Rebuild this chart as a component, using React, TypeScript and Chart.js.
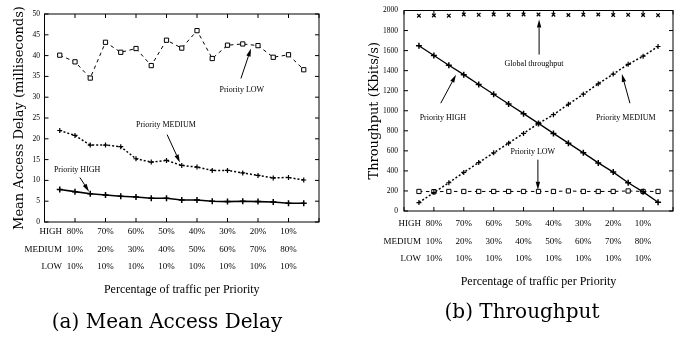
import React, { useEffect, useRef } from 'react';
import { Chart, registerables } from 'chart.js';

Chart.register(...registerables);

// ---------- shared x axis (share of MEDIUM traffic, %) ----------
const mediumShare = [5, 10, 15, 20, 25, 30, 35, 40, 45, 50, 55, 60, 65, 70, 75, 80, 85];
const tickValues = [10, 20, 30, 40, 50, 60, 70, 80];
const highTickLabels = ['80%', '70%', '60%', '50%', '40%', '30%', '20%', '10%'];
const mediumTickLabels = ['10%', '20%', '30%', '40%', '50%', '60%', '70%', '80%'];
const lowTickLabels = ['10%', '10%', '10%', '10%', '10%', '10%', '10%', '10%'];
const rowHeaders = ['HIGH', 'MEDIUM', 'LOW'];

// ---------- (a) Mean Access Delay (ms) ----------
const delayLow = [40.1, 38.5, 34.6, 43.2, 40.8, 41.7, 37.6, 43.7, 41.8, 46.0, 39.3, 42.5, 42.8, 42.4, 39.6, 40.2, 36.6];
const delayMedium = [22.0, 20.8, 18.5, 18.5, 18.1, 15.2, 14.4, 14.8, 13.6, 13.2, 12.4, 12.4, 11.8, 11.2, 10.6, 10.7, 10.1];
const delayHigh = [7.8, 7.3, 6.8, 6.5, 6.2, 6.0, 5.7, 5.7, 5.3, 5.3, 5.0, 4.9, 5.0, 4.9, 4.8, 4.5, 4.5];

// ---------- (b) Throughput (Kbits/s) ----------
const tputGlobal = [1948, 1950, 1948, 1960, 1957, 1960, 1957, 1960, 1960, 1958, 1955, 1958, 1960, 1955, 1957, 1955, 1953];
const tputHigh = [1648, 1551, 1454, 1360, 1262, 1165, 1068, 971, 874, 774, 677, 580, 480, 388, 282, 191, 88];
const tputMedium = [84, 184, 282, 385, 483, 580, 677, 774, 874, 961, 1065, 1165, 1269, 1366, 1463, 1544, 1641];
const tputLow = [195, 193, 195, 195, 195, 195, 195, 195, 195, 195, 200, 195, 195, 195, 200, 195, 195];

type Ann = { text: string; at: [number, number]; from: [number, number]; to: [number, number] };

const delayAnnotations: Ann[] = [
  { text: 'Priority LOW', at: [64.7, 31.8], from: [64.4, 34.5], to: [67.7, 41.7] },
  { text: 'Priority MEDIUM', at: [39.8, 23.4], from: [40.2, 21.0], to: [44.4, 14.3] },
  { text: 'Priority HIGH', at: [10.7, 12.6], from: [11.6, 10.7], to: [14.6, 7.3] },
];

const tputAnnotations: Ann[] = [
  { text: 'Global throughput', at: [43.5, 1463], from: [45.2, 1560], to: [45.2, 1910] },
  { text: 'Priority HIGH', at: [13.0, 929], from: [12.3, 1075], to: [17.4, 1359] },
  { text: 'Priority MEDIUM', at: [74.2, 929], from: [75.6, 1075], to: [72.9, 1366] },
  { text: 'Priority LOW', at: [43.1, 589], from: [44.8, 512], to: [44.8, 211] },
];

const SERIF = "'Liberation Serif'";
const X_TICK_SIZE = 9;
const X_LINE_H = 17.5;

type DecorCfg = {
  annotations: Ann[];
  caption: string;
  captionX: number;
  captionY: number;
  rowGap: number;
  tickPadding: number;
};

function makeDecor(cfg: DecorCfg) {
  return {
    id: 'paperDecor',
    afterDraw(chart: any) {
      const ctx = chart.ctx as CanvasRenderingContext2D;
      const { left, right, top, bottom } = chart.chartArea;
      const xs = chart.scales.x;
      const ys = chart.scales.y;
      ctx.save();
      ctx.strokeStyle = '#000';
      ctx.fillStyle = '#000';
      ctx.lineWidth = 1;
      ctx.strokeRect(left, top, right - left, bottom - top);
      const tl = 4;
      ctx.beginPath();
      xs.ticks.forEach((t: any) => {
        const px = xs.getPixelForValue(t.value);
        ctx.moveTo(px, bottom);
        ctx.lineTo(px, bottom - tl);
        ctx.moveTo(px, top);
        ctx.lineTo(px, top + tl);
      });
      ys.ticks.forEach((t: any) => {
        const py = ys.getPixelForValue(t.value);
        ctx.moveTo(left, py);
        ctx.lineTo(left + tl, py);
        ctx.moveTo(right, py);
        ctx.lineTo(right - tl, py);
      });
      ctx.stroke();

      // row headers for the multi-line tick labels
      ctx.font = `${X_TICK_SIZE}px ${SERIF}`;
      ctx.textAlign = 'right';
      ctx.textBaseline = 'middle';
      const firstPx = xs.getPixelForValue(tickValues[0]);
      rowHeaders.forEach((h, i) => {
        ctx.fillText(h, firstPx - cfg.rowGap, bottom + cfg.tickPadding + X_LINE_H * (i + 0.5));
      });

      // annotations with arrows
      ctx.font = `8px ${SERIF}`;
      ctx.textAlign = 'center';
      cfg.annotations.forEach((a) => {
        ctx.fillText(a.text, xs.getPixelForValue(a.at[0]), ys.getPixelForValue(a.at[1]));
        const x1 = xs.getPixelForValue(a.from[0]);
        const y1 = ys.getPixelForValue(a.from[1]);
        const x2 = xs.getPixelForValue(a.to[0]);
        const y2 = ys.getPixelForValue(a.to[1]);
        const ang = Math.atan2(y2 - y1, x2 - x1);
        const L = 8;
        const W = 2.2;
        const bx = x2 - L * Math.cos(ang);
        const by = y2 - L * Math.sin(ang);
        ctx.beginPath();
        ctx.moveTo(x1, y1);
        ctx.lineTo(bx, by);
        ctx.stroke();
        ctx.beginPath();
        ctx.moveTo(x2, y2);
        ctx.lineTo(bx + W * Math.sin(ang), by - W * Math.cos(ang));
        ctx.lineTo(bx - W * Math.sin(ang), by + W * Math.cos(ang));
        ctx.closePath();
        ctx.fill();
      });

      // caption
      ctx.font = "20px 'DejaVu Serif'";
      ctx.textAlign = 'center';
      ctx.textBaseline = 'middle';
      ctx.fillText(cfg.caption, cfg.captionX, cfg.captionY);
      ctx.restore();
    },
  };
}

function xTickCallback(value: any) {
  const i = tickValues.indexOf(Number(value));
  if (i < 0) return '';
  return [highTickLabels[i], mediumTickLabels[i], lowTickLabels[i]];
}

function buildOptions(p: {
  yMax: number;
  yStep: number;
  yTitle: string;
  yAxisWidth: number;
  yTitlePad: number;
  yTickPad: number;
  xAxisHeight: number;
  xTickPad: number;
  padding: { top: number; right: number; bottom: number; left: number };
}) {
  return {
    responsive: false,
    animation: false as const,
    devicePixelRatio: 1,
    layout: { padding: p.padding },
    plugins: { legend: { display: false }, tooltip: { enabled: false }, title: { display: false } },
    scales: {
      x: {
        type: 'linear' as const,
        min: 0,
        max: 90,
        grid: { display: false, drawTicks: false },
        border: { display: false },
        afterFit: (s: any) => {
          s.height = p.xAxisHeight;
        },
        ticks: {
          stepSize: 10,
          autoSkip: false,
          maxRotation: 0,
          minRotation: 0,
          padding: p.xTickPad,
          color: '#000',
          font: { family: 'Liberation Serif', size: X_TICK_SIZE, lineHeight: X_LINE_H / X_TICK_SIZE },
          callback: xTickCallback,
        },
        title: {
          display: true,
          text: 'Percentage of traffic per Priority',
          color: '#000',
          font: { family: 'Liberation Serif', size: 12 },
          padding: { top: 0, bottom: 0 },
        },
      },
      y: {
        type: 'linear' as const,
        min: 0,
        max: p.yMax,
        grid: { display: false, drawTicks: false },
        border: { display: false },
        afterFit: (s: any) => {
          s.width = p.yAxisWidth;
        },
        ticks: {
          stepSize: p.yStep,
          padding: p.yTickPad,
          color: '#000',
          font: { family: 'Liberation Serif', size: 7.5 },
          callback: (value: any) => String(value),
        },
        title: {
          display: true,
          text: p.yTitle,
          color: '#000',
          font: { family: 'DejaVu Serif', size: 13 },
          padding: { top: p.yTitlePad, bottom: 0 },
        },
      },
    },
  };
}

const pts = (ys: number[]) => mediumShare.map((x, i) => ({ x, y: ys[i] }));

export default function App() {
  const leftRef = useRef<HTMLCanvasElement | null>(null);
  const rightRef = useRef<HTMLCanvasElement | null>(null);

  useEffect(() => {
    if (!leftRef.current || !rightRef.current) return;

    const left = new Chart(leftRef.current, {
      type: 'line',
      data: {
        datasets: [
          {
            label: 'Priority LOW',
            data: pts(delayLow),
            borderColor: '#000',
            borderWidth: 1,
            borderDash: [3.5, 3.5],
            pointStyle: 'rect',
            pointRadius: 3,
            pointBorderWidth: 1,
            pointBorderColor: '#000',
            pointBackgroundColor: '#fff',
          },
          {
            label: 'Priority MEDIUM',
            data: pts(delayMedium),
            borderColor: '#000',
            borderWidth: 1.5,
            borderDash: [2, 2],
            pointStyle: 'cross',
            pointRadius: 2.5,
            pointBorderWidth: 1.2,
            pointBorderColor: '#000',
          },
          {
            label: 'Priority HIGH',
            data: pts(delayHigh),
            borderColor: '#000',
            borderWidth: 1.6,
            pointStyle: 'cross',
            pointRadius: 3,
            pointBorderWidth: 1.5,
            pointBorderColor: '#000',
          },
        ],
      },
      options: buildOptions({
        yMax: 50,
        yStep: 5,
        yTitle: 'Mean Access Delay (milliseconds)',
        yAxisWidth: 44.5,
        yTitlePad: 12,
        yTickPad: 4.5,
        xAxisHeight: 75.2,
        xTickPad: 1.25,
        padding: { top: 14, right: 22, bottom: 41.8, left: 0 },
      }) as any,
      plugins: [
        makeDecor({
          annotations: delayAnnotations,
          caption: '(a) Mean Access Delay',
          captionX: 167,
          captionY: 323,
          rowGap: 13,
          tickPadding: 1.25,
        }),
      ],
    });

    const right = new Chart(rightRef.current, {
      type: 'line',
      data: {
        datasets: [
          {
            label: 'Global throughput',
            data: pts(tputGlobal),
            showLine: false,
            borderColor: '#000',
            pointStyle: 'crossRot',
            pointRadius: 2.5,
            pointBorderWidth: 1.2,
            pointBorderColor: '#000',
          },
          {
            label: 'Priority HIGH',
            data: pts(tputHigh),
            borderColor: '#000',
            borderWidth: 1.3,
            pointStyle: 'cross',
            pointRadius: 3,
            pointBorderWidth: 1.5,
            pointBorderColor: '#000',
          },
          {
            label: 'Priority MEDIUM',
            data: pts(tputMedium),
            borderColor: '#000',
            borderWidth: 1.5,
            borderDash: [2, 2],
            pointStyle: 'cross',
            pointRadius: 2.5,
            pointBorderWidth: 1.2,
            pointBorderColor: '#000',
          },
          {
            label: 'Priority LOW',
            data: pts(tputLow),
            borderColor: '#000',
            borderWidth: 1,
            borderDash: [3.5, 3.5],
            pointStyle: 'rect',
            pointRadius: 3,
            pointBorderWidth: 1,
            pointBorderColor: '#000',
            pointBackgroundColor: '#fff',
          },
        ],
      },
      options: buildOptions({
        yMax: 2000,
        yStep: 200,
        yTitle: 'Throughput (Kbits/s)',
        yAxisWidth: 63,
        yTitlePad: 26,
        yTickPad: 6,
        xAxisHeight: 78.2,
        xTickPad: 4.25,
        padding: { top: 5, right: 10, bottom: 49.8, left: 0 },
      }) as any,
      plugins: [
        makeDecor({
          annotations: tputAnnotations,
          caption: '(b) Throughput',
          captionX: 181,
          captionY: 313,
          rowGap: 13,
          tickPadding: 4.25,
        }),
      ],
    });

    return () => {
      left.destroy();
      right.destroy();
    };
  }, []);

  return (
    <div style={{ position: 'absolute', left: 0, top: 0, width: 683, height: 339, background: '#fff' }}>
      <canvas ref={leftRef} width={341} height={339} style={{ position: 'absolute', left: 0, top: 0, width: 341, height: 339 }} />
      <canvas ref={rightRef} width={342} height={339} style={{ position: 'absolute', left: 341, top: 0, width: 342, height: 339 }} />
    </div>
  );
}
